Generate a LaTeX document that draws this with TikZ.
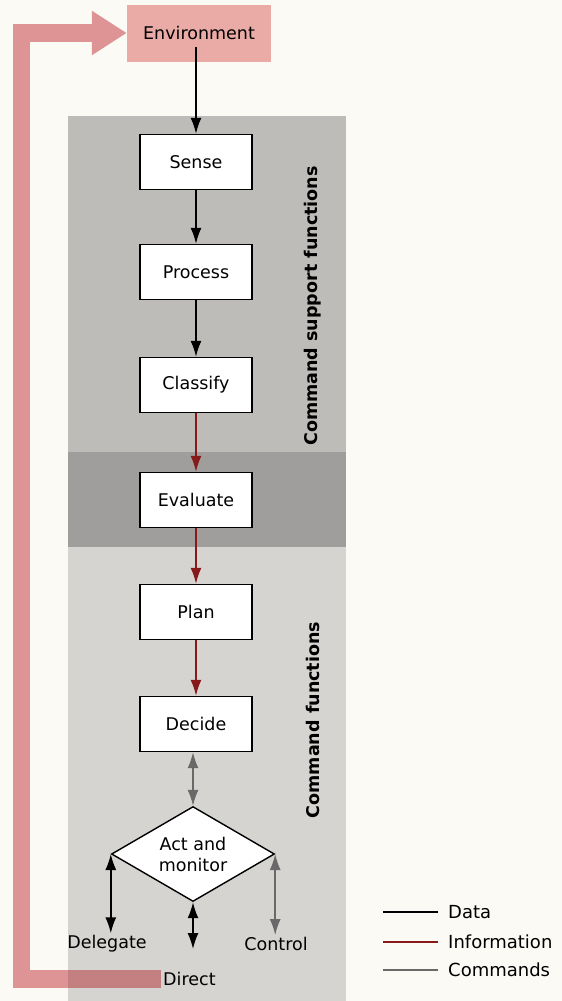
\documentclass[tikz,border=0pt]{standalone}
\usepackage{fontspec}
\setmainfont{DejaVu Sans}
\usepackage{xcolor}
\usetikzlibrary{arrows.meta,shapes.geometric,positioning}

\definecolor{paper}{RGB}{252,250,245}
\definecolor{envpink}{RGB}{234,170,166}
\definecolor{flowpink}{RGB}{222,148,148}
\definecolor{flowdark}{RGB}{196,128,128}
\definecolor{supportgrey}{RGB}{190,188,185}
\definecolor{evalgrey}{RGB}{160,158,156}
\definecolor{cmdgrey}{RGB}{214,212,208}
\definecolor{infored}{RGB}{135,25,25}
\definecolor{cmdline}{RGB}{105,105,105}

\begin{document}
\begin{tikzpicture}[x=1pt, y=-1pt,
    font=\fontsize{17.5}{21}\selectfont,
    stepbox/.style={draw=black, fill=white, line width=1.4pt, minimum width=112pt, minimum height=55pt, inner sep=0pt},
    envbox/.style={fill=envpink, minimum width=144pt, minimum height=57pt, inner sep=0pt},
    actbox/.style={diamond, draw=black, fill=white, line width=1.4pt, shape aspect=1.7, minimum width=163pt, minimum height=95pt, inner sep=0pt, align=center},
    tag/.style={inner sep=2pt},
    sidelabel/.style={rotate=90, font=\fontsize{17.5}{21}\selectfont\bfseries},
    keytext/.style={anchor=west, inner sep=0pt, font=\fontsize{18}{22}\selectfont},
    dataflow/.style={draw=black, line width=1.6pt, -{Latex[length=16pt, width=11pt]}},
    infoflow/.style={dataflow, draw=infored},
    bothflow/.style={draw=black, line width=1.6pt, {Latex[length=16pt, width=11pt]}-{Latex[length=16pt, width=11pt]}},
    cmdflow/.style={bothflow, draw=cmdline},
    pinkflow/.style={draw=flowpink, line width=17.5pt, line join=miter},
    keyline/.style={line width=1.5pt}]

% page and panels
\fill[paper] (0,0) rectangle (562,1001);
\useasboundingbox (0,0) rectangle (562,1001);
\fill[supportgrey] (68,116) rectangle (346,452);
\fill[evalgrey] (68,452) rectangle (346,547);
\fill[cmdgrey] (68,547) rectangle (346,1001);
\coordinate (cmdpanel) at (68,547);

% boxes
\node[envbox] (env) at (199,33) {Environment};
\node[stepbox] (sense) at (196,162) {Sense};
\node[stepbox] (process) at (196,272) {Process};
\node[stepbox] (classify) at (196,385) {Classify};
\node[stepbox] (evaluate) at (196,500) {Evaluate};
\node[stepbox] (plan) at (196,612) {Plan};
\node[stepbox] (decide) at (196,724) {Decide};
\node[actbox] (act) at (193,854) {Act and\\monitor};

\node[tag] (delegate) at (107,944) {Delegate};
\node[tag] (control) at (276,944) {Control};
\node[tag, anchor=west] (direct) at (161,979) {Direct};
\coordinate (directtip) at (192,949);
\coordinate (turn) at (21.5,33);

\node[sidelabel] (supportlabel) at (313,306) {Command support functions};
\node[sidelabel] (cmdlabel) at (313,720) {Command functions};

% feedback to the environment
\draw[pinkflow, -{Triangle[length=35pt, width=42pt]}] (direct.west) -| (turn) -- (env.west);
\draw[pinkflow, draw=flowdark] (direct.west) -- (direct.west -| cmdpanel);

% flow
\draw[dataflow] ([yshift=-14pt]env.center -| sense.north) -- (sense.north);
\draw[dataflow] (sense) -- (process);
\draw[dataflow] (process) -- (classify);
\draw[infoflow] (classify) -- (evaluate);
\draw[infoflow] (evaluate) -- (plan);
\draw[infoflow] (plan) -- (decide);
\draw[cmdflow] (decide.south -| act.north) -- (act.north);
\draw[bothflow] (act.west) -- (act.west |- delegate.north);
\draw[bothflow] (act.south) -- (act.south |- directtip);
\draw[cmdflow] (act.east) -- (act.east |- control.north);

% key
\node[keytext] (datakey) at (448,912) {Data};
\node[keytext] (infokey) at (448,942) {Information};
\node[keytext] (cmdkey) at (448,970) {Commands};
\draw[keyline, draw=black] ([xshift=-10pt]datakey.west) -- ++(-55,0);
\draw[keyline, draw=infored] ([xshift=-10pt]infokey.west) -- ++(-55,0);
\draw[keyline, draw=cmdline] ([xshift=-10pt]cmdkey.west) -- ++(-55,0);
\end{tikzpicture}
\end{document}
